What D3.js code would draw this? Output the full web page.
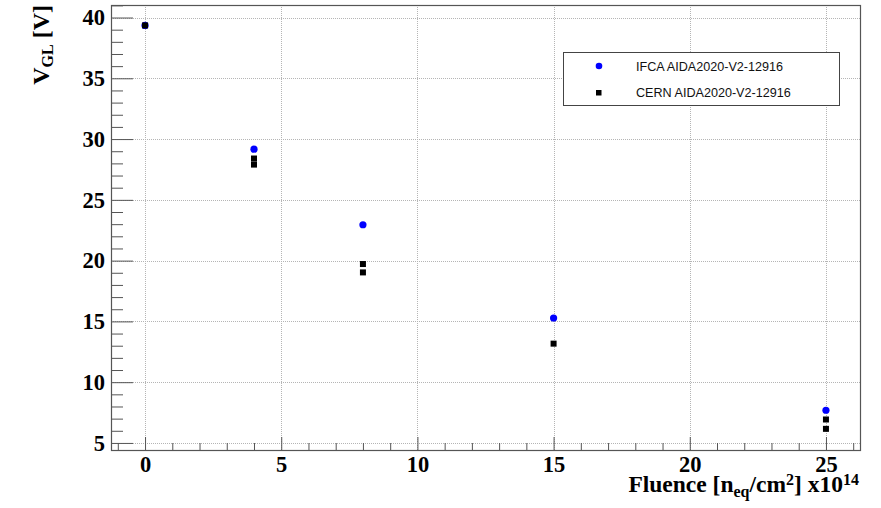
<!DOCTYPE html>
<html>
<head>
<meta charset="utf-8">
<script src="https://cdn.jsdelivr.net/npm/d3@7"></script>
<style>
  body { margin: 0; background: #fff; }
  svg { display: block; }
  .tick-label text { font-family: "Liberation Serif", "Times New Roman", serif; font-weight: bold; }
</style>
</head>
<body>
<div id="chart"></div>
<script>
// data
const ifcaFluence = [0, 4, 8, 15, 25];
const ifcaVgl = [39.35, 29.17, 22.95, 15.28, 7.69];

const cernFluence = [0, 4, 4, 8, 8, 15, 25, 25];
const cernVgl = [39.35, 28.4, 27.9, 19.72, 19.03, 13.17, 6.93, 6.16];

const xMajor = [0, 5, 10, 15, 20, 25];
const yMajor = [5, 10, 15, 20, 25, 30, 35, 40];

const legendNames = ["IFCA AIDA2020-V2-12916", "CERN AIDA2020-V2-12916"];

const width = 881, height = 508;
const frame = { left: 111, right: 860, top: 5, bottom: 450 };

const svg = d3.select("#chart").append("svg")
  .attr("width", width)
  .attr("height", height);

const x = d3.scaleLinear().domain([-1.25, 26.25]).range([frame.left, frame.right]);
const y = d3.scaleLinear().domain([4.42, 41.03]).range([frame.bottom, frame.top]);

// grid
const grid = svg.append("g")
  .attr("stroke", "#b5b5b5")
  .attr("stroke-width", 1)
  .attr("stroke-dasharray", "1,1");

grid.selectAll(".gx").data(xMajor).enter().append("line")
  .attr("x1", (d) => Math.round(x(d)) + 0.5)
  .attr("x2", (d) => Math.round(x(d)) + 0.5)
  .attr("y1", frame.top)
  .attr("y2", frame.bottom);

grid.selectAll(".gy").data(yMajor).enter().append("line")
  .attr("y1", (d) => Math.round(y(d)) + 0.5)
  .attr("y2", (d) => Math.round(y(d)) + 0.5)
  .attr("x1", frame.left)
  .attr("x2", frame.right);

// minor ticks
const xMinor = d3.range(-1, 27, 1).filter((d) => d % 5 !== 0);
const yMinor = d3.range(5, 42, 1).filter((d) => d % 5 !== 0);

svg.append("g")
  .attr("transform", `translate(0,${frame.bottom})`)
  .call(d3.axisBottom(x).tickValues(xMinor).tickSize(-7).tickFormat(""))
  .call((g) => g.select(".domain").remove());

svg.append("g")
  .attr("transform", `translate(${frame.left},0)`)
  .call(d3.axisLeft(y).tickValues(yMinor).tickSize(-12).tickFormat(""))
  .call((g) => g.select(".domain").remove());

// major ticks with labels
svg.append("g")
  .attr("class", "tick-label")
  .attr("transform", `translate(0,${frame.bottom})`)
  .call(d3.axisBottom(x).tickValues(xMajor).tickSize(-13).tickPadding(6).tickFormat(d3.format("d")))
  .call((g) => g.select(".domain").remove())
  .call((g) => g.selectAll("text").attr("font-size", 22.5).attr("fill", "#000"));

svg.append("g")
  .attr("class", "tick-label")
  .attr("transform", `translate(${frame.left},0)`)
  .call(d3.axisLeft(y).tickValues(yMajor).tickSize(-22).tickPadding(6).tickFormat(d3.format("d")))
  .call((g) => g.select(".domain").remove())
  .call((g) => g.selectAll("text").attr("font-size", 22.5).attr("fill", "#000"));

svg.selectAll(".tick line").attr("stroke", "#555");

// frame
svg.append("rect")
  .attr("x", frame.left + 0.5)
  .attr("y", frame.top + 0.5)
  .attr("width", frame.right - frame.left)
  .attr("height", frame.bottom - frame.top)
  .attr("fill", "none")
  .attr("stroke", "#555")
  .attr("stroke-width", 1.2);

// data points
svg.append("g").selectAll("circle")
  .data(ifcaFluence.map((d, i) => [d, ifcaVgl[i]]))
  .enter().append("circle")
  .attr("cx", (d) => x(d[0]))
  .attr("cy", (d) => y(d[1]))
  .attr("r", 3.6)
  .attr("fill", "#0000ff");

svg.append("g").selectAll("rect")
  .data(cernFluence.map((d, i) => [d, cernVgl[i]]))
  .enter().append("rect")
  .attr("x", (d) => x(d[0]) - 3)
  .attr("y", (d) => y(d[1]) - 3)
  .attr("width", 6)
  .attr("height", 6)
  .attr("fill", "#000");

// legend
const legend = svg.append("g").attr("transform", "translate(563,52)");
legend.append("rect")
  .attr("x", 0.5).attr("y", 0.5)
  .attr("width", 276).attr("height", 53)
  .attr("fill", "#fff")
  .attr("stroke", "#444")
  .attr("stroke-width", 1);

legend.append("circle").attr("cx", 36).attr("cy", 14).attr("r", 3.3).attr("fill", "#0000ff");
legend.append("rect").attr("x", 33).attr("y", 38).attr("width", 5.5).attr("height", 5.5).attr("fill", "#000");

legend.selectAll("text").data(legendNames).enter().append("text")
  .attr("x", 73)
  .attr("y", (d, i) => 18.5 + i * 26.5)
  .attr("font-family", "'Liberation Sans', Arial, sans-serif")
  .attr("font-size", 12.6)
  .attr("fill", "#111")
  .text((d) => d);

// axis titles
const serif = "'Liberation Serif', 'Times New Roman', serif";

const yTitle = svg.append("text")
  .attr("transform", "translate(49,5) rotate(-90)")
  .attr("text-anchor", "end")
  .attr("font-family", serif)
  .attr("font-weight", "bold")
  .attr("font-size", 24);
yTitle.append("tspan").text("V");
yTitle.append("tspan").attr("font-size", 16).attr("dy", 4).text("GL");
yTitle.append("tspan").attr("dy", -4).text(" [V]");

const xTitle = svg.append("text")
  .attr("x", 859)
  .attr("y", 492)
  .attr("text-anchor", "end")
  .attr("font-family", serif)
  .attr("font-weight", "bold")
  .attr("font-size", 23.5);
xTitle.append("tspan").text("Fluence [n");
xTitle.append("tspan").attr("font-size", 16).attr("dy", 5).text("eq");
xTitle.append("tspan").attr("dy", -5).text("/cm");
xTitle.append("tspan").attr("font-size", 16).attr("dy", -7).text("2");
xTitle.append("tspan").attr("dy", 7).text("] x10");
xTitle.append("tspan").attr("font-size", 16).attr("dy", -7).text("14");
</script>
</body>
</html>
